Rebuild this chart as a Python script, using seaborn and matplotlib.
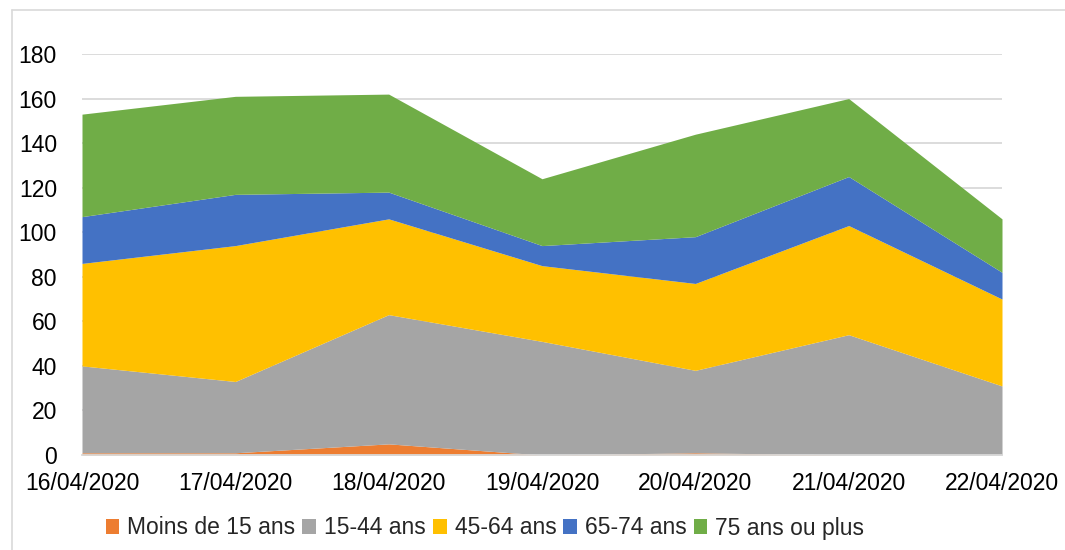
import matplotlib
matplotlib.use('Agg')
import matplotlib.pyplot as plt
from matplotlib.patches import Patch
from matplotlib.lines import Line2D
import seaborn as sns
import numpy as np

dates = ['16/04/2020', '17/04/2020', '18/04/2020', '19/04/2020',
         '20/04/2020', '21/04/2020', '22/04/2020']
labels = ['Moins de 15 ans', '15-44 ans', '45-64 ans', '65-74 ans', '75 ans ou plus']
moins15 = [1, 1, 5, 0, 1, 0, 0]
age15_44 = [39, 32, 58, 51, 37, 54, 31]
age45_64 = [46, 61, 43, 34, 39, 49, 39]
age65_74 = [21, 23, 12, 9, 21, 22, 12]
age75 = [46, 44, 44, 30, 46, 35, 24]
colors = ['#ED7D31', '#A5A5A5', '#FFC000', '#4472C4', '#70AD47']

sns.set_style('white')
plt.rcParams['font.family'] = ['Liberation Sans', 'DejaVu Sans']

fig = plt.figure(figsize=(10.65, 5.5), dpi=100)
ax = fig.add_axes([82 / 1065, 1 - 455 / 550, 920 / 1065, 401 / 550])

x = np.arange(len(dates))
ax.stackplot(x, moins15, age15_44, age45_64, age65_74, age75,
             colors=colors, labels=labels, linewidth=0, zorder=2)

ax.set_xlim(0, len(dates) - 1)
ax.set_ylim(0, 180)
ax.set_yticks(range(0, 181, 20))
ax.set_xticks(x)
ax.set_xticklabels(dates)
ax.yaxis.grid(True, color='#d9d9d9', linewidth=1.3, zorder=0)
ax.set_axisbelow(True)
sns.despine(ax=ax, left=True, top=True, right=True)
ax.spines['bottom'].set_color('#d9d9d9')
ax.spines['bottom'].set_linewidth(1.3)
ax.tick_params(axis='y', length=0, pad=18, labelsize=16.5, colors='black')
ax.tick_params(axis='x', length=0, pad=12, labelsize=16.5, colors='black')

# chart area border (top and left edges visible)
fig.add_artist(Line2D([12 / 1065, 12 / 1065], [0, 1 - 10 / 550],
                      transform=fig.transFigure, color='#d9d9d9', linewidth=1.2))
fig.add_artist(Line2D([12 / 1065, 1], [1 - 10 / 550, 1 - 10 / 550],
                      transform=fig.transFigure, color='#d9d9d9', linewidth=1.2))

handles = [Patch(facecolor=c, edgecolor='none') for c in colors]
fig.legend(handles, labels, loc='center', bbox_to_anchor=(485 / 1065, 1 - 528 / 550),
           ncol=5, frameon=False, fontsize=16.5, handlelength=0.6, handleheight=0.6,
           handletextpad=0.35, columnspacing=0.3)

fig.savefig('out.png', dpi=100)
